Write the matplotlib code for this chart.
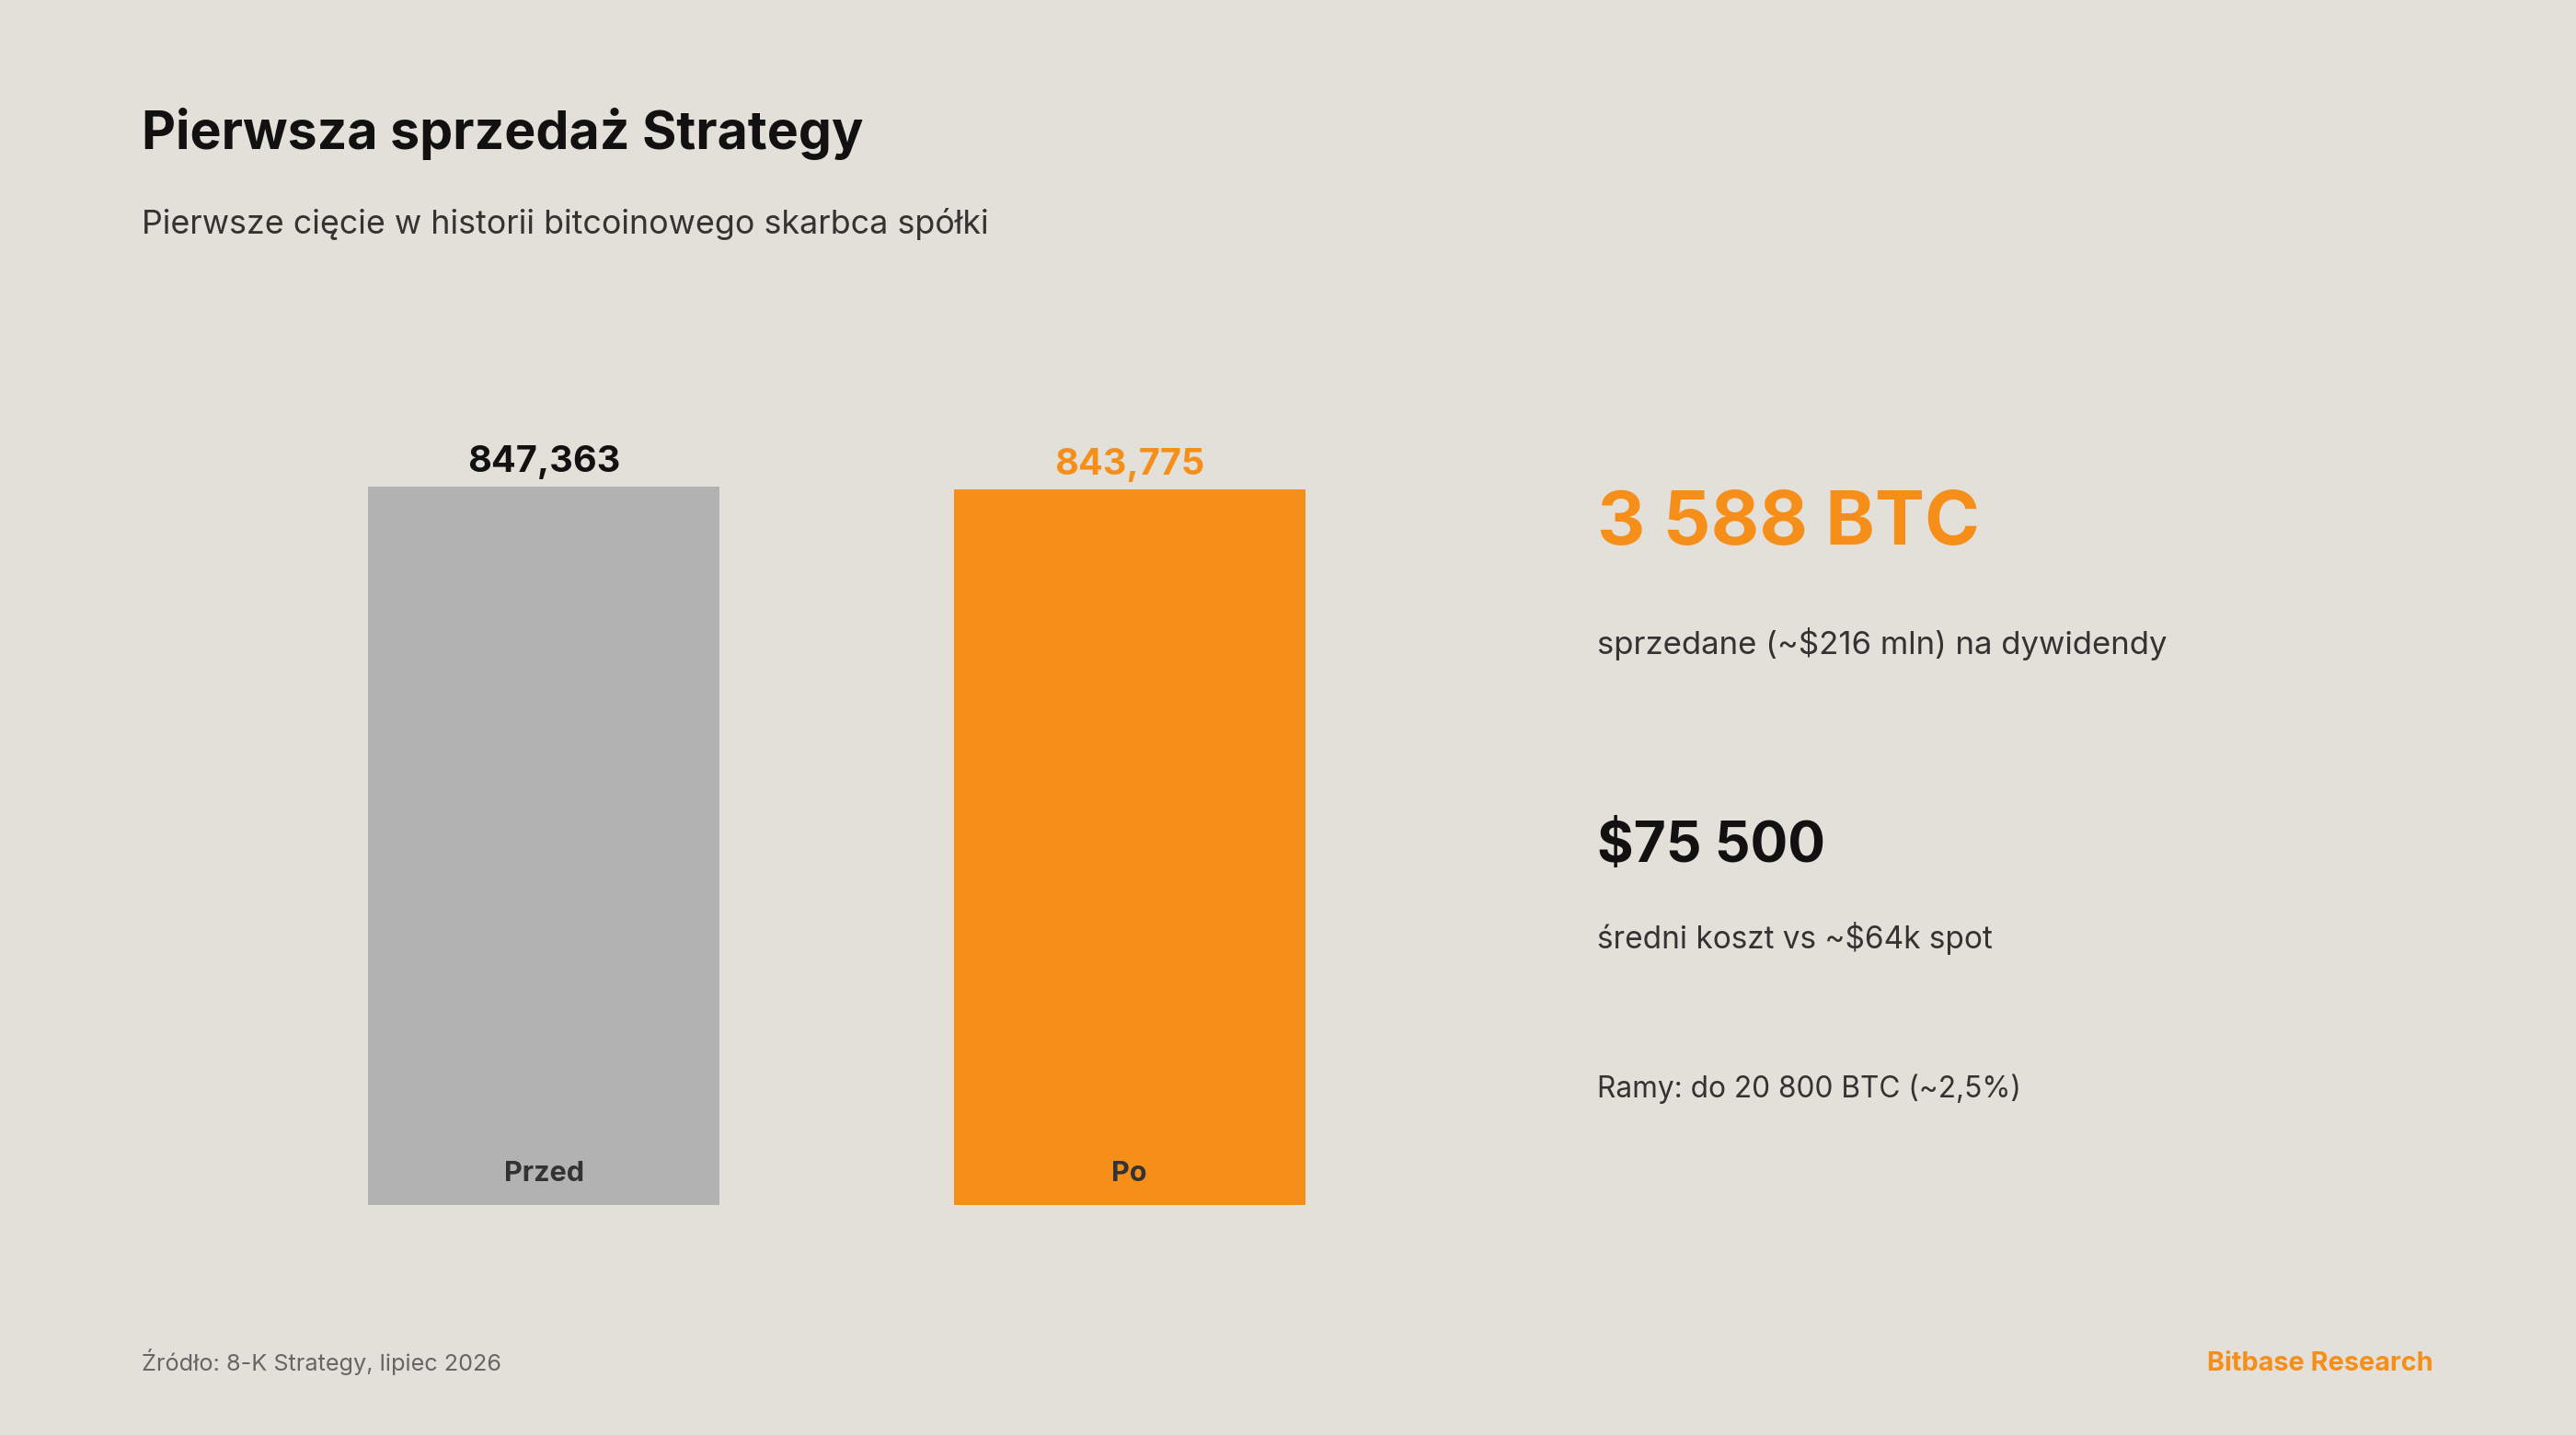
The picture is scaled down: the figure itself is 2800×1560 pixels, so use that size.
import matplotlib
matplotlib.use("Agg")
import matplotlib.pyplot as plt

categories = ["Przed", "Po"]
holdings = [847363, 843775]
value_labels = ["847,363", "843,775"]

title = "Pierwsza sprzedaż Strategy"
subtitle = "Pierwsze cięcie w historii bitcoinowego skarbca spółki"
stat1 = "3 588 BTC"
stat1_desc = "sprzedane (~$216 mln) na dywidendy"
stat2 = "$75 500"
stat2_desc = "średni koszt vs ~$64k spot"
stat3 = "Ramy: do 20 800 BTC (~2,5%)"
source = "Źródło: 8-K Strategy, lipiec 2026"
brand = "Bitbase Research"

BG = "#E3DFD9"
ORANGE = "#F58F1A"
GRAY = "#B2B2B2"
DARK = "#111111"
MID = "#333333"
FOOT = "#666666"

FONT = ["Inter", "Lato", "DejaVu Sans"]
plt.rcParams["font.family"] = FONT

W, H = 2800, 1560
DPI = 200
fig = plt.figure(figsize=(W / DPI, H / DPI), dpi=DPI, facecolor=BG)

def fx(px):
    return px / W

def fy(py):
    return 1 - py / H

# axes for bars
ax_left, ax_right = 273, 1546
ax_bottom = 1310
ymax = 1_000_000
ax_height = 781 * ymax / holdings[0]
ax = fig.add_axes([fx(ax_left), 1 - ax_bottom / H, (ax_right - ax_left) / W, ax_height / H])
ax.set_facecolor(BG)
ax.set_xlim(-0.5, 1.5)
ax.set_ylim(0, ymax)
ax.axis("off")

colors = [GRAY, ORANGE]
label_colors = [DARK, ORANGE]
x = list(range(len(categories)))
ax.bar(x, holdings, width=0.6, color=colors, linewidth=0)
pt = 72 / DPI
for i, (v, lab) in enumerate(zip(holdings, value_labels)):
    ax.annotate(lab, (i, v), xytext=(0, 16 * pt), textcoords="offset points",
                ha="center", va="baseline", fontsize=14.3, fontweight="bold",
                color=label_colors[i])
    ax.annotate(categories[i], (i, 0), xytext=(0, 26 * pt), textcoords="offset points",
                ha="center", va="baseline", fontsize=11, fontweight="bold", color=MID)

# titles
fig.text(fx(154), fy(162), title, fontsize=20.6, fontweight="bold", color=DARK,
         ha="left", va="baseline")
fig.text(fx(154), fy(254), subtitle, fontsize=12.9, color=MID, ha="left", va="baseline")

# right panel
rx = 1736
fig.text(fx(rx), fy(592), stat1, fontsize=29.2, fontweight="bold", color=ORANGE,
         ha="left", va="baseline")
fig.text(fx(rx), fy(711), stat1_desc, fontsize=12.5, color=MID, ha="left", va="baseline")
fig.text(fx(rx), fy(937), stat2, fontsize=21.8, fontweight="bold", color=DARK,
         ha="left", va="baseline")
fig.text(fx(rx), fy(1031), stat2_desc, fontsize=12, color=MID, ha="left", va="baseline")
fig.text(fx(rx), fy(1193), stat3, fontsize=11.4, color=MID, ha="left", va="baseline")

# footer
fig.text(fx(154), fy(1490), source, fontsize=9.1, color=FOOT, ha="left", va="baseline")
fig.text(fx(2645), fy(1490), brand, fontsize=10.4, fontweight="bold", color=ORANGE,
         ha="right", va="baseline")

fig.savefig("out.png", dpi=DPI, facecolor=BG)
